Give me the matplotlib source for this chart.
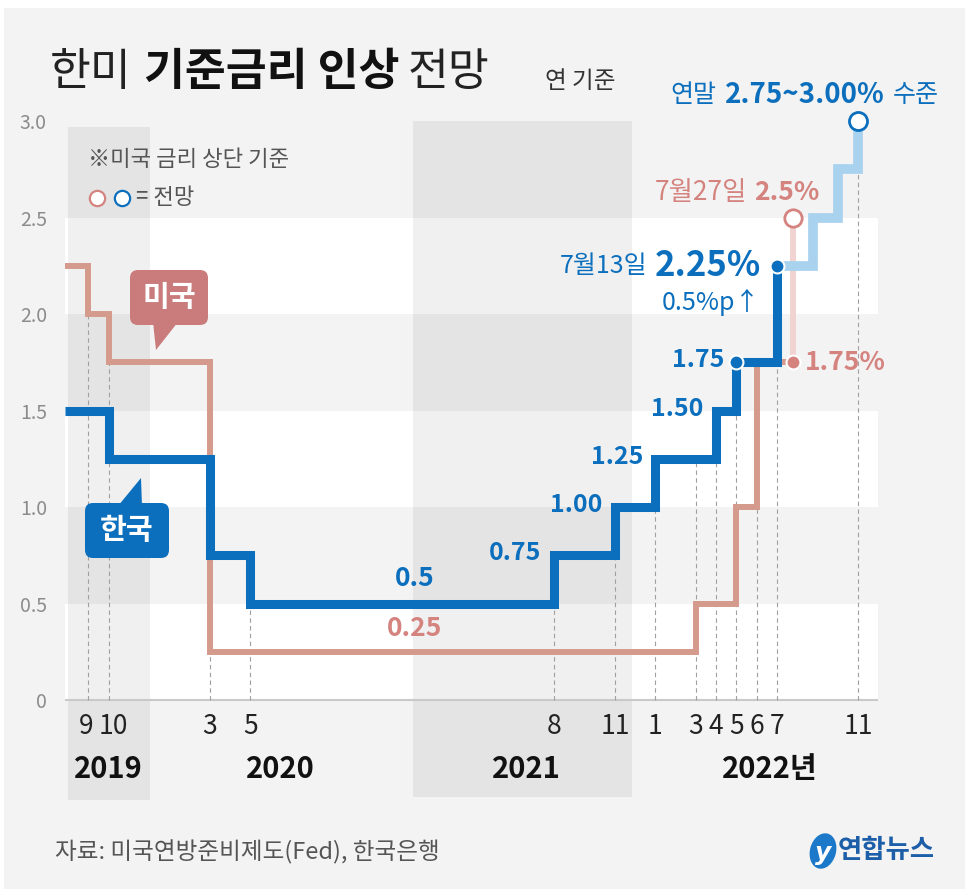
import numpy as np
import matplotlib.pyplot as plt
from matplotlib.patches import FancyBboxPatch, Polygon, Ellipse, Rectangle

plt.rcParams['font.family'] = ['Noto Sans CJK KR', 'DejaVu Sans']

# month index: 0 = January 2019
kr_months = [6.84, 9, 14, 16, 31, 34, 36, 39, 40, 42]
kr_rates = [1.50, 1.25, 0.75, 0.50, 0.75, 1.00, 1.25, 1.50, 1.75, 2.25]
kr_fc_months = [42, 43.78, 45.0, 46.0]
kr_fc_rates = [2.25, 2.50, 2.75, 3.00]

us_months = [6.84, 8, 9, 14, 38, 40, 41, 42.8]
us_rates = [2.25, 2.00, 1.75, 0.25, 0.50, 1.00, 1.75, 1.75]
us_fc_months = [42.8, 42.8]
us_fc_rates = [1.75, 2.50]

tick_months = [8, 9, 14, 16, 31, 34, 36, 38, 39, 40, 41, 42, 46]
tick_labels = ['9', '10', '3', '5', '8', '11', '1', '3', '4', '5', '6', '7', '11']
year_labels = ['2019', '2020', '2021', '2022년']
year_centers = [8.96, 17.46, 29.65, 41.65]
year_bands = [(6.99, 11.04), (24.02, 34.84)]

y_ticks = [0, 0.5, 1.0, 1.5, 2.0, 2.5, 3.0]
y_tick_labels = ['0', '0.5', '1.0', '1.5', '2.0', '2.5', '3.0']

kr_hike_labels = ['0.75', '1.00', '1.25', '1.50', '1.75']
kr_hike_months = [31, 34, 36, 39, 40]
kr_hike_rates = [0.75, 1.00, 1.25, 1.50, 1.75]

BLUE = '#0c6fbd'
LIGHT_BLUE = '#a8d2ee'
US_LINE = '#d49b8c'
US_TEXT = '#d4837f'
US_BOX = '#c97c7b'
LIGHT_PINK = '#f1d3d2'
BG = '#f3f3f3'

W, H = 969, 896
fig = plt.figure(figsize=(W / 100, H / 100), dpi=100, facecolor='white')

# background frame (pixel coordinates)
ax_bg = fig.add_axes([0, 0, 1, 1], zorder=0)
ax_bg.set_xlim(0, W)
ax_bg.set_ylim(H, 0)
ax_bg.axis('off')
ax_bg.add_patch(Rectangle((4, 8), 961, 881, color=BG, lw=0))

# main chart
ax = fig.add_axes([65 / W, 1 - 800 / H, 813 / W, 679 / H], zorder=1)
ax.set_xlim(6.84, 46.99)
ax.set_ylim(-0.518, 3.0)
ax.patch.set_visible(False)
for s in ax.spines.values():
    s.set_visible(False)

for lo in [0, 1, 2]:
    ax.axhspan(lo, lo + 0.5, color='white', lw=0, zorder=0)
ax.axvspan(*year_bands[0], ymin=0, ymax=0.991, color='black', alpha=0.06, lw=0, zorder=0.5)
ax.axvspan(*year_bands[1], ymin=0.004, ymax=1, color='black', alpha=0.06, lw=0, zorder=0.5)
ax.axhline(0, color='#c9c9c9', lw=1.5, zorder=1)


def rate_at(months, rates, m):
    i = np.searchsorted(months, m, side='right') - 1
    return rates[i]


kr_all_m = kr_months + kr_fc_months[1:]
kr_all_r = kr_rates + kr_fc_rates[1:]
heights = [max(rate_at(kr_all_m, kr_all_r, m), rate_at(us_months, us_rates, m)) for m in tick_months]
ax.vlines(tick_months, 0, heights, colors='#a0a0a0', lw=0.8, linestyles=(0, (4, 3)), zorder=1.5)

line_kw = dict(where='post', solid_joinstyle='miter', solid_capstyle='butt', clip_on=False)
ax.plot(us_fc_months, us_fc_rates, color=LIGHT_PINK, lw=4.3, zorder=2.8, solid_capstyle='butt')
ax.step(us_months, us_rates, color=US_LINE, lw=4.3, zorder=3, **line_kw)
ax.step(kr_fc_months, kr_fc_rates, color=LIGHT_BLUE, lw=7, zorder=3.5, **line_kw)
ax.step(kr_months, kr_rates, color=BLUE, lw=6.5, zorder=4, **line_kw)

dot_kw = dict(zorder=5, clip_on=False)
ax.plot(kr_months[-2:], kr_rates[-2:], 'o', color=BLUE, ms=10, mec='white', mew=1.5, **dot_kw)
ax.plot(us_months[-1], us_rates[-1], 'o', color=US_TEXT, ms=10, mec='white', mew=1.5, **dot_kw)
ax.plot(us_fc_months[-1], us_fc_rates[-1], 'o', mfc='white', mec=US_TEXT, ms=12.5, mew=2, **dot_kw)
ax.plot(kr_fc_months[-1], kr_fc_rates[-1], 'o', mfc='white', mec=BLUE, ms=13, mew=2, **dot_kw)

# y ticks
ax.set_xticks([])
ax.set_yticks(y_ticks, y_tick_labels)
ax.tick_params(axis='y', length=0, pad=13, labelsize=14, labelcolor='#8c8c8c')
for lab in ax.get_yticklabels():
    lab.set_fontweight('light')

# month / year labels
nudge = {0: -0.1, 1: 0.25}
for i, (m, lab) in enumerate(zip(tick_months, tick_labels)):
    ax.text(m + nudge.get(i, 0), -0.135, lab, ha='center', va='center', fontsize=19, color='#222222')
for c, lab in zip(year_centers, year_labels):
    ax.text(c, -0.357, lab, ha='center', va='center', fontsize=21, fontweight='bold', color='#111111')

# value labels
bold_blue = dict(color=BLUE, fontweight='bold')
for m, r, lab in zip(kr_hike_months, kr_hike_rates, kr_hike_labels):
    ax.text(m - 0.62, r + 0.01, lab, ha='right', va='center', fontsize=18, zorder=6, **bold_blue)
ax.text(24.1, 0.63, '0.5', ha='center', va='center', fontsize=19, **bold_blue)
ax.text(24.1, 0.37, '0.25', ha='center', va='center', fontsize=19, color=US_TEXT, fontweight='bold')

t = ax.text(41.2, 2.25, '2.25%', ha='right', va='center', fontsize=25, **bold_blue)
ax.annotate('7월13일', xy=(0, 0.5), xycoords=t, xytext=(-5, 0), textcoords='offset points',
            ha='right', va='center', fontsize=18, color=BLUE)
ax.text(41.16, 2.06, '0.5%p↑', ha='right', va='center', fontsize=18, color=BLUE)

t = ax.text(44.12, 2.63, '2.5%', ha='right', va='center', fontsize=19, color=US_TEXT, fontweight='bold')
ax.annotate('7월27일', xy=(0, 0.5), xycoords=t, xytext=(-5, 0), textcoords='offset points',
            ha='right', va='center', fontsize=19, color=US_TEXT)
ax.text(43.38, 1.75, '1.75%', ha='left', va='center', fontsize=19, color=US_TEXT, fontweight='bold')

t = ax.text(39.43, 3.135, '2.75~3.00%', ha='left', va='center', fontsize=20, **bold_blue)
ax.annotate('연말', xy=(0, 0.5), xycoords=t, xytext=(-6, 0), textcoords='offset points',
            ha='right', va='center', fontsize=18, color=BLUE)
ax.annotate('수준', xy=(1, 0.5), xycoords=t, xytext=(6, 0), textcoords='offset points',
            ha='left', va='center', fontsize=18, color=BLUE)

# overlay: title, notes, callouts, source
ax_top = fig.add_axes([0, 0, 1, 1], zorder=3)
ax_top.set_xlim(0, W)
ax_top.set_ylim(H, 0)
ax_top.axis('off')

t = ax_top.text(50, 72, '한미', fontsize=32, fontweight='light', va='center', color='#222222')
t = ax_top.annotate('기준금리 인상', xy=(1, 0.5), xycoords=t, xytext=(9, 0), textcoords='offset points',
                    ha='left', va='center', fontsize=32, fontweight='bold', color='#111111')
ax_top.annotate('전망', xy=(1, 0.5), xycoords=t, xytext=(6, 0), textcoords='offset points',
                ha='left', va='center', fontsize=32, fontweight='light', color='#222222')
ax_top.text(545, 82, '연 기준', fontsize=17, va='center', color='#333333')

ax_top.text(88, 160, '※미국 금리 상단 기준', fontsize=16, va='center', color='#555555')
ax_top.plot([97], [198], 'o', mfc='white', mec=US_TEXT, ms=11, mew=1.6)
ax_top.plot([122], [198], 'o', mfc='white', mec=BLUE, ms=11, mew=1.6)
ax_top.text(136, 198, '= 전망', fontsize=16, va='center', color='#555555')

ax_top.add_patch(FancyBboxPatch((130, 270), 78, 55, boxstyle='round,pad=0,rounding_size=8',
                                color=US_BOX, lw=0))
ax_top.add_patch(Polygon([(153, 322), (178, 322), (156, 350)], color=US_BOX, lw=0))
ax_top.text(169, 297, '미국', fontsize=21, fontweight='bold', color='white', ha='center', va='center')

ax_top.add_patch(FancyBboxPatch((85, 503), 84, 55, boxstyle='round,pad=0,rounding_size=8',
                                color=BLUE, lw=0))
ax_top.add_patch(Polygon([(118, 506), (142, 506), (141, 478)], color=BLUE, lw=0))
ax_top.text(127, 530, '한국', fontsize=21, fontweight='bold', color='white', ha='center', va='center')

ax_top.text(55, 852, '자료: 미국연방준비제도(Fed), 한국은행', fontsize=17, va='center', color='#555555')
ax_top.add_patch(Ellipse((823, 851), 26, 36, angle=15, color='#1c78c8', lw=0))
ax_top.text(823, 853, 'y', fontsize=18, fontweight='bold', style='italic', color='white',
            ha='center', va='center', family='DejaVu Sans')
ax_top.text(838, 851, '연합뉴스', fontsize=19, fontweight='bold', va='center', color='#1d5ea8')

fig.savefig('out.png', dpi=100, facecolor='white')
